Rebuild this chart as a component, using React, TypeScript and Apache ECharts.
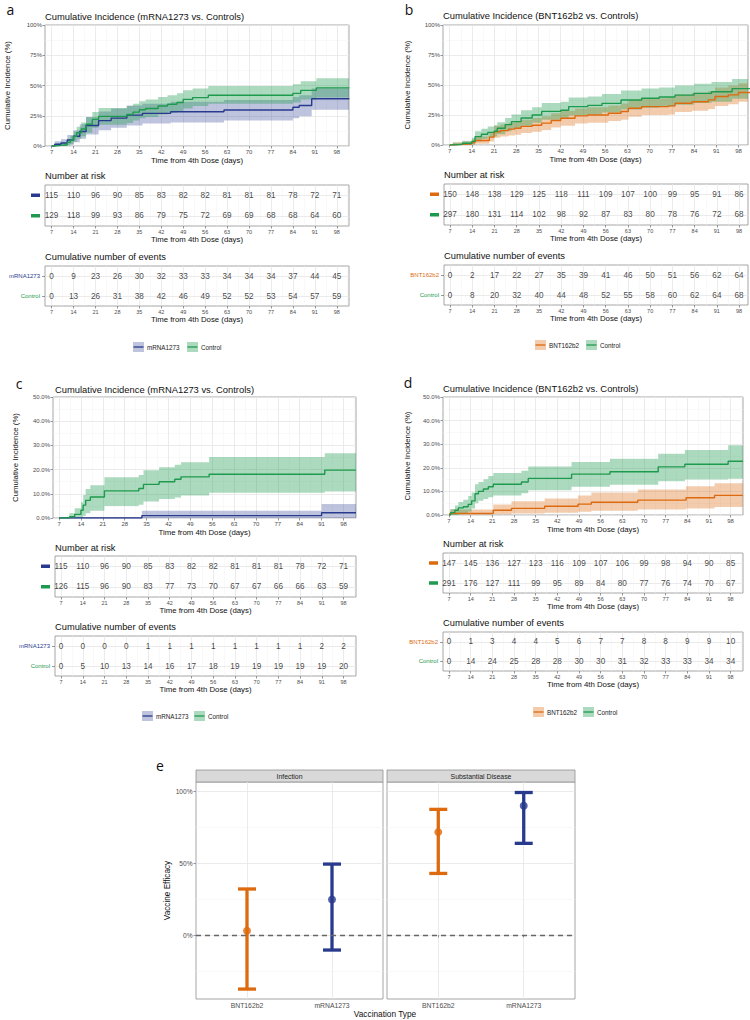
import React, { useEffect, useRef } from "react";
import * as echarts from "echarts";

const FONT = "'Liberation Sans', Arial, Helvetica, sans-serif";
const LETTER_FONT = "'Open Sans', 'Liberation Sans', sans-serif";

const BLUE = "#283a8e";
const GREEN = "#1e9a4e";
const ORANGE = "#dd6a0e";
const BLUE_FILL = "rgba(40,58,142,0.30)";
const GREEN_FILL = "rgba(30,154,78,0.37)";
const ORANGE_FILL = "rgba(221,106,14,0.34)";
const TICK_GREY = "#4d4d4d";
const BORDER = "#8f8f8f";

// ---------- axis ticks ----------
const TICK_DAYS = [7, 14, 21, 28, 35, 42, 49, 56, 63, 70, 77, 84, 91, 98];
const MINOR_DAYS = [10.5, 17.5, 24.5, 31.5, 38.5, 45.5, 52.5, 59.5, 66.5, 73.5, 80.5, 87.5, 94.5, 101.5];

// ---------- panel a: mRNA1273 vs Controls (infection) ----------
const A_M_DAYS = [7, 8, 10, 12, 14, 16, 18, 22, 26, 31, 36, 45, 62, 84, 86, 90, 102];
const A_M_EST = [0, 1.5, 2.5, 5, 8, 12, 17, 21, 23, 25.5, 27, 28.3, 29.7, 32, 33.5, 39, 39];
const A_M_LO = [0, 0, 0, 1, 3, 6, 9.5, 13, 15, 17, 18.5, 19.5, 21, 23, 24.5, 30, 30];
const A_M_HI = [0, 4, 5.5, 9, 13, 18, 24, 28.5, 31, 33.5, 35, 36.5, 38, 40.5, 42, 47.5, 47.5];

const A_C_DAYS = [7, 8.5, 10, 12, 13, 14, 15, 16.5, 18, 20, 22, 31, 33, 35, 37, 41, 44, 47, 49, 52, 57, 84, 86.5, 91.5, 102];
const A_C_EST = [0, 0.5, 1, 3, 5, 8, 11, 14, 18, 22, 24.5, 26, 28, 30, 31, 33, 34.5, 36, 38.5, 40, 42, 43.5, 46, 48, 48.5];
const A_C_LO = [0, 0, 0, 0.5, 1.5, 3.5, 6, 8, 11, 15, 17.5, 19, 21, 23, 24, 26, 27.5, 29, 31, 33, 35, 36, 38.5, 40, 40.5];
const A_C_HI = [0, 2, 3, 6, 8.5, 12, 16, 19.5, 24, 28, 31.5, 33, 35, 37, 38.5, 40.5, 42, 43.5, 46, 47.5, 49.5, 51, 53.5, 56, 56.5];

const A_RISK_M = [115, 110, 96, 90, 85, 83, 82, 82, 81, 81, 81, 78, 72, 71];
const A_RISK_C = [129, 118, 99, 93, 86, 79, 75, 72, 69, 69, 68, 68, 64, 60];
const A_EV_M = [0, 9, 23, 26, 30, 32, 33, 33, 34, 34, 34, 37, 44, 45];
const A_EV_C = [0, 13, 26, 31, 38, 42, 46, 49, 52, 52, 53, 54, 57, 59];

// ---------- panel b: BNT162b2 vs Controls (infection) ----------
const B_B_DAYS = [7, 8, 11, 14, 15, 19.5, 21, 23, 25.5, 27.5, 29.5, 33, 36, 39, 42, 46.5, 50.5, 57, 61, 63.3, 67.5, 76, 78, 83.3, 88.5, 90.6, 94.8, 98, 102];
const B_B_EST = [0, 0.5, 1, 2, 3.8, 6.6, 11, 12, 13.2, 14, 15.5, 16.5, 18.2, 20.4, 22.3, 24.3, 25, 26.5, 27.9, 30.6, 32, 32.6, 34.8, 36, 37.6, 40.4, 41.8, 43.8, 44.4];
const B_B_LO = [0, 0, 0, 0.5, 1, 3, 6, 7, 8, 8.5, 10, 11, 12.5, 14.5, 16, 18, 18.5, 20, 21, 23.5, 25, 25.5, 27.5, 28.5, 30, 32.5, 34, 36, 36.5];
const B_B_HI = [0, 2, 3, 4.5, 7, 10.5, 16, 17, 18.5, 19.5, 21, 22.5, 24, 26.5, 28.5, 30.5, 31.5, 33, 34.5, 37.5, 39, 39.5, 42, 43.5, 45, 48, 49.5, 51.5, 52];

const B_C_DAYS = [7, 8, 11, 14, 15, 17, 19, 21, 22, 24.5, 26.5, 29.5, 33, 36, 42, 44.5, 50.5, 55, 61, 67.5, 73, 78, 84, 89.5, 96, 102];
const B_C_EST = [0, 0.5, 1.5, 3, 7, 9, 10.5, 11.5, 14, 17, 19.5, 22.5, 25, 28, 29, 32, 33, 34.7, 37.5, 39, 40, 41.6, 43, 44.4, 47, 48];
const B_C_LO = [0, 0, 0, 0.5, 3, 5, 6.5, 7, 9, 11.5, 13.5, 16, 18.5, 21, 22, 24.5, 25.5, 27, 29.5, 31, 32, 33.5, 35, 36, 38.5, 39.5];
const B_C_HI = [0, 2, 3.5, 6, 11.5, 13.5, 15.5, 16.5, 19, 22.5, 25.5, 29, 31.5, 35, 36, 39.5, 40.5, 42.5, 45.5, 47, 48, 49.5, 51, 52.5, 55, 56];

const B_RISK_B = [150, 148, 138, 129, 125, 118, 111, 109, 107, 100, 99, 95, 91, 86];
const B_RISK_C = [297, 180, 131, 114, 102, 98, 92, 87, 83, 80, 78, 76, 72, 68];
const B_EV_B = [0, 2, 17, 22, 27, 35, 39, 41, 46, 50, 51, 56, 62, 64];
const B_EV_C = [0, 8, 20, 32, 40, 44, 48, 52, 55, 58, 60, 62, 64, 68];

// ---------- panel c: mRNA1273 vs Controls (substantial disease) ----------
const C_M_DAYS = [7, 33.5, 91, 102];
const C_M_EST = [0, 1, 2.2, 2.2];
const C_M_LO = [0, 0, 0, 0];
const C_M_HI = [0.3, 3, 5.8, 5.8];

const C_C_DAYS = [7, 10.3, 12, 14, 14.7, 15.5, 17, 21.5, 32.5, 34, 39, 44, 46, 55, 92, 102];
const C_C_EST = [0, 0.5, 1.5, 3.2, 5.3, 7.3, 8.7, 11.2, 12.2, 13.9, 15, 16, 17, 18.1, 19.8, 19.8];
const C_C_LO = [0, 0, 0, 0, 0.8, 2, 3, 5, 5.5, 6.8, 7.8, 8.5, 9.3, 10.4, 10.9, 10.9];
const C_C_HI = [0, 2, 4, 6.5, 9.5, 12, 13.5, 16.8, 17.8, 19.7, 21, 22, 23, 25.2, 26.8, 26.8];

const C_RISK_M = [115, 110, 96, 90, 85, 83, 82, 82, 81, 81, 81, 78, 72, 71];
const C_RISK_C = [126, 115, 96, 90, 83, 77, 73, 70, 67, 67, 66, 66, 63, 59];
const C_EV_M = [0, 0, 0, 0, 1, 1, 1, 1, 1, 1, 1, 1, 2, 2];
const C_EV_C = [0, 5, 10, 13, 14, 16, 17, 18, 19, 19, 19, 19, 19, 20];

// ---------- panel d: BNT162b2 vs Controls (substantial disease) ----------
const D_B_DAYS = [7, 7.3, 21.3, 27.2, 37.9, 48.7, 53, 68, 83.6, 92.8, 102];
const D_B_EST = [0, 0.7, 2, 2.8, 3.7, 4.6, 5.4, 6.3, 7.3, 8.3, 8.3];
const D_B_LO = [0, 0, 0.3, 0.6, 1, 1.4, 1.8, 2.3, 2.8, 3.4, 3.4];
const D_B_HI = [0, 2.3, 4.5, 5.8, 7, 8.3, 9.5, 10.8, 12.2, 13.5, 13.5];

const D_C_DAYS = [7, 7.5, 8.9, 10, 11.6, 13.2, 14.3, 15.4, 16.5, 18.1, 19.7, 21.3, 30.4, 32.6, 46.6, 59, 74.6, 83.2, 97.2, 102];
const D_C_EST = [0, 1, 2, 3, 3.5, 4.5, 6, 9, 10, 11, 12, 13, 14, 15.5, 17.3, 18.3, 20.4, 21.5, 22.8, 22.8];
const D_C_LO = [0, 0, 0, 0.3, 0.8, 1.5, 2.8, 5, 6, 6.8, 7.5, 8.3, 9.2, 10.5, 12, 12.8, 14.3, 15, 15.4, 15.4];
const D_C_HI = [0, 2.5, 4, 5.5, 6.5, 8, 9.5, 13, 14, 15.2, 16.5, 17.8, 18.8, 20.5, 22.5, 23.8, 26, 27.5, 29.6, 29.6];

const D_RISK_B = [147, 145, 136, 127, 123, 116, 109, 107, 106, 99, 98, 94, 90, 85];
const D_RISK_C = [291, 176, 127, 111, 99, 95, 89, 84, 80, 77, 76, 74, 70, 67];
const D_EV_B = [0, 1, 3, 4, 4, 5, 6, 7, 7, 8, 8, 9, 9, 10];
const D_EV_C = [0, 14, 24, 25, 28, 28, 30, 30, 31, 32, 33, 33, 34, 34];

// ---------- panel e: vaccine efficacy ----------
const VE_CATS = ["BNT162b2", "mRNA1273"];
const VE_COLORS = [ORANGE, BLUE];
const VE_INF_EST = [3, 24.7];
const VE_INF_LO = [-37.5, -10.4];
const VE_INF_HI = [32, 49.3];
const VE_SD_EST = [71.5, 89.8];
const VE_SD_LO = [42.8, 63.7];
const VE_SD_HI = [87.3, 99];
const VE_Y_MAJOR = [0, 50, 100];
const VE_Y_MINOR = [-25, 25, 75];

type Curve = { color: string; fill: string; days: number[]; est: number[]; lo: number[]; hi: number[] };
type Rect = { left: number; top: number; width: number; height: number };

function buildOption() {
  const opt: any = {
    animation: false,
    backgroundColor: "#ffffff",
    textStyle: { fontFamily: FONT },
    grid: [],
    xAxis: [],
    yAxis: [],
    series: [],
    graphic: [],
  };

  const addGrid = (r: Rect) => {
    opt.grid.push({ ...r, show: true, borderColor: BORDER, borderWidth: 0.8, backgroundColor: "transparent", containLabel: false });
    return opt.grid.length - 1;
  };

  const text = (x: number, y: number, s: string, size: number, color = "#111", align = "left", family = FONT) => {
    opt.graphic.push({
      type: "text",
      x,
      y,
      silent: true,
      style: {
        text: s,
        fontSize: size,
        fontFamily: family,
        fill: color,
        align,
        verticalAlign: "middle",
        textAlign: align,
        textVerticalAlign: "middle",
      },
    });
  };

  const vLines = (major: number[], minor: number[]) => [
    ...minor.map((v) => ({ xAxis: v, lineStyle: { color: "#f3f3f3", width: 0.5, type: "solid" } })),
    ...major.map((v) => ({ xAxis: v, lineStyle: { color: "#e6e6e6", width: 0.8, type: "solid" } })),
  ];

  const markLineBase = (data: any[]) => ({
    silent: true,
    symbol: ["none", "none"],
    label: { show: false },
    animation: false,
    z: 0,
    data,
  });

  const xDaysAxis = (g: number, xr: [number, number], labelSize: number, nameGap: number) => ({
    type: "value",
    gridIndex: g,
    min: xr[0],
    max: xr[1],
    axisLine: { show: false },
    splitLine: { show: false },
    axisTick: { show: true, customValues: TICK_DAYS, length: 2.5, lineStyle: { color: "#555", width: 0.6 } },
    axisLabel: { customValues: TICK_DAYS, fontSize: labelSize, color: TICK_GREY, margin: 2.5, fontFamily: FONT },
    name: "Time from 4th Dose (days)",
    nameLocation: "middle",
    nameGap,
    nameTextStyle: { fontSize: 7.8, color: "#111", fontFamily: FONT },
  });

  const addKM = (
    r: Rect,
    xr: [number, number],
    yMax: number,
    yInt: number,
    yFmt: (v: number) => string,
    yNameGap: number,
    curves: Curve[]
  ) => {
    const g = addGrid(r);
    opt.xAxis.push(xDaysAxis(g, xr, 6, 10));
    const ax = opt.xAxis.length - 1;
    opt.yAxis.push({
      type: "value",
      gridIndex: g,
      min: 0,
      max: yMax,
      interval: yInt,
      axisLine: { show: false },
      axisTick: { show: true, length: 2.5, lineStyle: { color: "#555", width: 0.6 } },
      axisLabel: { formatter: yFmt, fontSize: 6, color: TICK_GREY, margin: 3, fontFamily: FONT },
      splitLine: { show: true, lineStyle: { color: "#e6e6e6", width: 0.8 } },
      minorTick: { show: false, splitNumber: 2 },
      minorSplitLine: { show: true, lineStyle: { color: "#f3f3f3", width: 0.5 } },
      name: "Cumulative Incidence (%)",
      nameLocation: "middle",
      nameGap: yNameGap,
      nameTextStyle: { fontSize: 7.8, color: "#111", fontFamily: FONT },
    });
    const ay = opt.yAxis.length - 1;
    curves.forEach((c, ci) => {
      // confidence band: one polygon built through the axes' coordinate mapping
      opt.series.push({
        type: "custom",
        xAxisIndex: ax,
        yAxisIndex: ay,
        silent: true,
        z: 2,
        clip: true,
        data: c.days.map((d, i) => [d, c.lo[i], c.hi[i]]),
        encode: { x: 0, y: [1, 2] },
        renderItem: (params: any, api: any) => {
          if (params.dataIndex !== 0) return null;
          const upper: number[][] = [];
          const lower: number[][] = [];
          for (let i = 0; i < c.days.length; i++) {
            const x0 = c.days[i];
            const x1 = i + 1 < c.days.length ? c.days[i + 1] : c.days[i];
            upper.push(api.coord([x0, c.hi[i]]));
            upper.push(api.coord([x1, c.hi[i]]));
            lower.push(api.coord([x0, c.lo[i]]));
            lower.push(api.coord([x1, c.lo[i]]));
          }
          const pts = upper.concat(lower.reverse());
          return { type: "polygon", shape: { points: pts }, style: { fill: c.fill, stroke: "none" } };
        },
        markLine: ci === 0 ? markLineBase(vLines(TICK_DAYS, MINOR_DAYS)) : undefined,
      });
    });
    curves.forEach((c) => {
      opt.series.push({
        type: "line",
        xAxisIndex: ax,
        yAxisIndex: ay,
        step: "end",
        symbol: "none",
        silent: true,
        z: 3,
        lineStyle: { color: c.color, width: 1.4 },
        data: c.days.map((d, i) => [d, c.est[i]]),
      });
    });
  };

  const addTable = (
    r: Rect,
    xr: [number, number],
    rows: { label: string; color: string; values: number[] }[],
    kind: "risk" | "events"
  ) => {
    const g = addGrid(r);
    opt.xAxis.push(xDaysAxis(g, xr, 5.5, 9));
    const ax = opt.xAxis.length - 1;
    const rich: any = {};
    rows.forEach((row, i) => {
      rich["m" + i] = { width: 9, height: 3.5, backgroundColor: row.color };
      rich["t" + i] = { color: row.color, fontSize: 6, fontFamily: FONT };
    });
    opt.yAxis.push({
      type: "category",
      gridIndex: g,
      data: rows.map((row) => row.label),
      inverse: true,
      axisLine: { show: false },
      splitLine: { show: false },
      axisTick: { show: kind === "events", length: 3, alignWithLabel: true, lineStyle: { color: "#555", width: 0.6 } },
      axisLabel: {
        margin: 5,
        formatter: (v: string, i: number) => (kind === "risk" ? `{m${i}|}` : `{t${i}|${v}}`),
        rich,
      },
    });
    const ay = opt.yAxis.length - 1;
    rows.forEach((row, ri) => {
      opt.series.push({
        type: "scatter",
        xAxisIndex: ax,
        yAxisIndex: ay,
        symbolSize: 1,
        silent: true,
        z: 3,
        itemStyle: { color: "rgba(0,0,0,0)" },
        label: {
          show: true,
          position: "inside",
          formatter: (p: any) => String(p.value[2]),
          fontSize: 8.2,
          color: "#111",
          fontFamily: FONT,
        },
        data: TICK_DAYS.map((d, i) => [d, row.label, row.values[i]]),
        markLine:
          ri === 0
            ? markLineBase([
                ...vLines(TICK_DAYS, MINOR_DAYS),
                ...rows.map((rr) => ({ yAxis: rr.label, lineStyle: { color: "#e6e6e6", width: 0.8, type: "solid" } })),
              ])
            : undefined,
      });
    });
  };

  const addLegend = (y: number, items: { x: number; label: string; color: string; fill: string }[]) => {
    items.forEach((it) => {
      opt.graphic.push({
        type: "rect",
        silent: true,
        shape: { x: it.x, y: y - 5, width: 11, height: 10 },
        style: { fill: it.fill },
      });
      opt.graphic.push({
        type: "line",
        silent: true,
        shape: { x1: it.x + 0.5, y1: y, x2: it.x + 10.5, y2: y },
        style: { stroke: it.color, lineWidth: 1.3 },
      });
      text(it.x + 14, y + 0.5, it.label, 6.3, "#222");
    });
  };

  // ================= Panel a =================
  text(10.5, 9, "a", 14, "#111", "center", LETTER_FONT);
  text(45, 16, "Cumulative Incidence (mRNA1273 vs. Controls)", 9.4);
  addKM({ left: 45, top: 25, width: 304, height: 121 }, [4.9, 101.9], 100, 25, (v) => `${v}%`, 34, [
    { color: BLUE, fill: BLUE_FILL, days: A_M_DAYS, est: A_M_EST, lo: A_M_LO, hi: A_M_HI },
    { color: GREEN, fill: GREEN_FILL, days: A_C_DAYS, est: A_C_EST, lo: A_C_LO, hi: A_C_HI },
  ]);
  text(45, 176, "Number at risk", 9.3);
  addTable({ left: 45, top: 185, width: 304, height: 41 }, [4.9, 101.9], [
    { label: "mRNA1273", color: BLUE, values: A_RISK_M },
    { label: "Control", color: GREEN, values: A_RISK_C },
  ], "risk");
  text(45, 257, "Cumulative number of events", 9.3);
  addTable({ left: 45, top: 266, width: 304, height: 40 }, [4.9, 101.9], [
    { label: "mRNA1273", color: BLUE, values: A_EV_M },
    { label: "Control", color: GREEN, values: A_EV_C },
  ], "events");
  addLegend(347, [
    { x: 133, label: "mRNA1273", color: BLUE, fill: BLUE_FILL },
    { x: 187, label: "Control", color: GREEN, fill: GREEN_FILL },
  ]);

  // ================= Panel b =================
  text(409, 9, "b", 14, "#111", "center", LETTER_FONT);
  text(443, 15, "Cumulative Incidence (BNT162b2 vs. Controls)", 9.4);
  addKM({ left: 443, top: 25, width: 305, height: 120 }, [4.9, 101], 100, 25, (v) => `${v}%`, 32, [
    { color: ORANGE, fill: ORANGE_FILL, days: B_B_DAYS, est: B_B_EST, lo: B_B_LO, hi: B_B_HI },
    { color: GREEN, fill: GREEN_FILL, days: B_C_DAYS, est: B_C_EST, lo: B_C_LO, hi: B_C_HI },
  ]);
  text(444, 175, "Number at risk", 9.3);
  addTable({ left: 444, top: 184, width: 304, height: 41 }, [5.1, 100.8], [
    { label: "BNT162b2", color: ORANGE, values: B_RISK_B },
    { label: "Control", color: GREEN, values: B_RISK_C },
  ], "risk");
  text(444, 256, "Cumulative number of events", 9.3);
  addTable({ left: 444, top: 265, width: 304, height: 40 }, [5.1, 100.8], [
    { label: "BNT162b2", color: ORANGE, values: B_EV_B },
    { label: "Control", color: GREEN, values: B_EV_C },
  ], "events");
  addLegend(345, [
    { x: 535, label: "BNT162b2", color: ORANGE, fill: ORANGE_FILL },
    { x: 586, label: "Control", color: GREEN, fill: GREEN_FILL },
  ]);

  // ================= Panel c =================
  text(19, 383, "c", 14, "#111", "center", LETTER_FONT);
  text(55, 389, "Cumulative Incidence (mRNA1273 vs. Controls)", 9.4);
  addKM({ left: 53, top: 397, width: 303, height: 121 }, [5.05, 102], 50, 10, (v) => `${v.toFixed(1)}%`, 34, [
    { color: BLUE, fill: BLUE_FILL, days: C_M_DAYS, est: C_M_EST, lo: C_M_LO, hi: C_M_HI },
    { color: GREEN, fill: GREEN_FILL, days: C_C_DAYS, est: C_C_EST, lo: C_C_LO, hi: C_C_HI },
  ]);
  text(55, 548, "Number at risk", 9.3);
  addTable({ left: 55, top: 556, width: 301, height: 41 }, [5.05, 102], [
    { label: "mRNA1273", color: BLUE, values: C_RISK_M },
    { label: "Control", color: GREEN, values: C_RISK_C },
  ], "risk");
  text(55, 627, "Cumulative number of events", 9.3);
  addTable({ left: 55, top: 636, width: 301, height: 40 }, [5.05, 102], [
    { label: "mRNA1273", color: BLUE, values: C_EV_M },
    { label: "Control", color: GREEN, values: C_EV_C },
  ], "events");
  addLegend(716, [
    { x: 142, label: "mRNA1273", color: BLUE, fill: BLUE_FILL },
    { x: 194, label: "Control", color: GREEN, fill: GREEN_FILL },
  ]);

  // ================= Panel d =================
  text(408, 382, "d", 14, "#111", "center", LETTER_FONT);
  text(443, 388, "Cumulative Incidence (BNT162b2 vs. Controls)", 9.4);
  addKM({ left: 443, top: 397, width: 300, height: 118 }, [5.05, 102], 50, 10, (v) => `${v.toFixed(1)}%`, 32, [
    { color: ORANGE, fill: ORANGE_FILL, days: D_B_DAYS, est: D_B_EST, lo: D_B_LO, hi: D_B_HI },
    { color: GREEN, fill: GREEN_FILL, days: D_C_DAYS, est: D_C_EST, lo: D_C_LO, hi: D_C_HI },
  ]);
  text(443, 544, "Number at risk", 9.3);
  addTable({ left: 443, top: 553, width: 300, height: 40 }, [5.05, 102], [
    { label: "BNT162b2", color: ORANGE, values: D_RISK_B },
    { label: "Control", color: GREEN, values: D_RISK_C },
  ], "risk");
  text(443, 623, "Cumulative number of events", 9.3);
  addTable({ left: 443, top: 632, width: 300, height: 39 }, [5.05, 102], [
    { label: "BNT162b2", color: ORANGE, values: D_EV_B },
    { label: "Control", color: GREEN, values: D_EV_C },
  ], "events");
  addLegend(712, [
    { x: 533, label: "BNT162b2", color: ORANGE, fill: ORANGE_FILL },
    { x: 583, label: "Control", color: GREEN, fill: GREEN_FILL },
  ]);

  // ================= Panel e =================
  text(160, 765, "e", 14, "#111", "center", LETTER_FONT);
  const facets = [
    { title: "Infection", rect: { left: 196, top: 782, width: 187, height: 217 }, est: VE_INF_EST, lo: VE_INF_LO, hi: VE_INF_HI, showY: true },
    { title: "Substantial Disease", rect: { left: 387, top: 782, width: 188, height: 217 }, est: VE_SD_EST, lo: VE_SD_LO, hi: VE_SD_HI, showY: false },
  ];
  facets.forEach((f) => {
    opt.graphic.push({
      type: "rect",
      silent: true,
      shape: { x: f.rect.left, y: 770, width: f.rect.width, height: 12 },
      style: { fill: "#d9d9d9", stroke: BORDER, lineWidth: 0.8 },
    });
    text(f.rect.left + f.rect.width / 2, 776.5, f.title, 6.9, "#222", "center");
    const g = addGrid(f.rect);
    opt.xAxis.push({
      type: "value",
      gridIndex: g,
      min: 0.4,
      max: 2.6,
      axisLine: { show: false },
      splitLine: { show: false },
      axisTick: { show: true, customValues: [1, 2], length: 2.5, lineStyle: { color: "#555", width: 0.6 } },
      axisLabel: {
        customValues: [1, 2],
        formatter: (v: number) => VE_CATS[Math.round(v) - 1] ?? "",
        fontSize: 6.8,
        color: TICK_GREY,
        margin: 3,
        fontFamily: FONT,
      },
    });
    const ax = opt.xAxis.length - 1;
    opt.yAxis.push({
      type: "value",
      gridIndex: g,
      min: -44.4,
      max: 106.3,
      axisLine: { show: false },
      splitLine: { show: false },
      axisTick: { show: f.showY, customValues: VE_Y_MAJOR, length: 2.5, lineStyle: { color: "#555", width: 0.6 } },
      axisLabel: {
        show: f.showY,
        customValues: VE_Y_MAJOR,
        formatter: (v: number) => `${v}%`,
        fontSize: 6.6,
        color: TICK_GREY,
        margin: 3.5,
        fontFamily: FONT,
      },
      name: f.showY ? "Vaccine Efficacy" : "",
      nameLocation: "middle",
      nameGap: 22,
      nameTextStyle: { fontSize: 8.2, color: "#111", fontFamily: FONT },
    });
    const ay = opt.yAxis.length - 1;
    opt.series.push({
      type: "custom",
      xAxisIndex: ax,
      yAxisIndex: ay,
      silent: true,
      z: 3,
      data: VE_CATS.map((_, i) => [i + 1, f.lo[i], f.hi[i], i]),
      encode: { x: 0, y: [1, 2] },
      renderItem: (_params: any, api: any) => {
        const x = api.value(0);
        const top = api.coord([x, api.value(2)]);
        const bot = api.coord([x, api.value(1)]);
        const color = VE_COLORS[api.value(3)];
        const hw = 9;
        const st = { stroke: color, lineWidth: 3.3, lineCap: "butt" };
        return {
          type: "group",
          children: [
            { type: "line", shape: { x1: top[0], y1: top[1], x2: bot[0], y2: bot[1] }, style: st },
            { type: "line", shape: { x1: top[0] - hw, y1: top[1], x2: top[0] + hw, y2: top[1] }, style: st },
            { type: "line", shape: { x1: bot[0] - hw, y1: bot[1], x2: bot[0] + hw, y2: bot[1] }, style: st },
          ],
        };
      },
      markLine: markLineBase([
        ...VE_Y_MINOR.map((v) => ({ yAxis: v, lineStyle: { color: "#f3f3f3", width: 0.6, type: "solid" } })),
        ...VE_Y_MAJOR.map((v) => ({ yAxis: v, lineStyle: { color: "#e6e6e6", width: 0.8, type: "solid" } })),
        ...[1, 2].map((v) => ({ xAxis: v, lineStyle: { color: "#e6e6e6", width: 0.8, type: "solid" } })),
      ]),
    });
    opt.series.push({
      type: "line",
      xAxisIndex: ax,
      yAxisIndex: ay,
      silent: true,
      symbol: "none",
      lineStyle: { opacity: 0 },
      data: [],
      z: 2,
      markLine: {
        silent: true,
        symbol: ["none", "none"],
        label: { show: false },
        animation: false,
        data: [{ yAxis: 0, lineStyle: { color: "#666", width: 1.3, type: [5, 4] } }],
      },
    });
    opt.series.push({
      type: "scatter",
      xAxisIndex: ax,
      yAxisIndex: ay,
      silent: true,
      z: 4,
      symbolSize: 8,
      data: VE_CATS.map((_, i) => ({ value: [i + 1, f.est[i]], itemStyle: { color: VE_COLORS[i] } })),
    });
  });
  text(385, 1014, "Vaccination Type", 8.3, "#111", "center");

  return opt;
}

export default function App() {
  const ref = useRef<HTMLDivElement>(null);
  useEffect(() => {
    if (!ref.current) return;
    const chart = echarts.init(ref.current, undefined, { renderer: "svg" });
    chart.setOption(buildOption());
    return () => chart.dispose();
  }, []);
  return (
    <div
      ref={ref}
      style={{ position: "absolute", left: 0, top: 0, width: 750, height: 1020, background: "#fff" }}
    />
  );
}
